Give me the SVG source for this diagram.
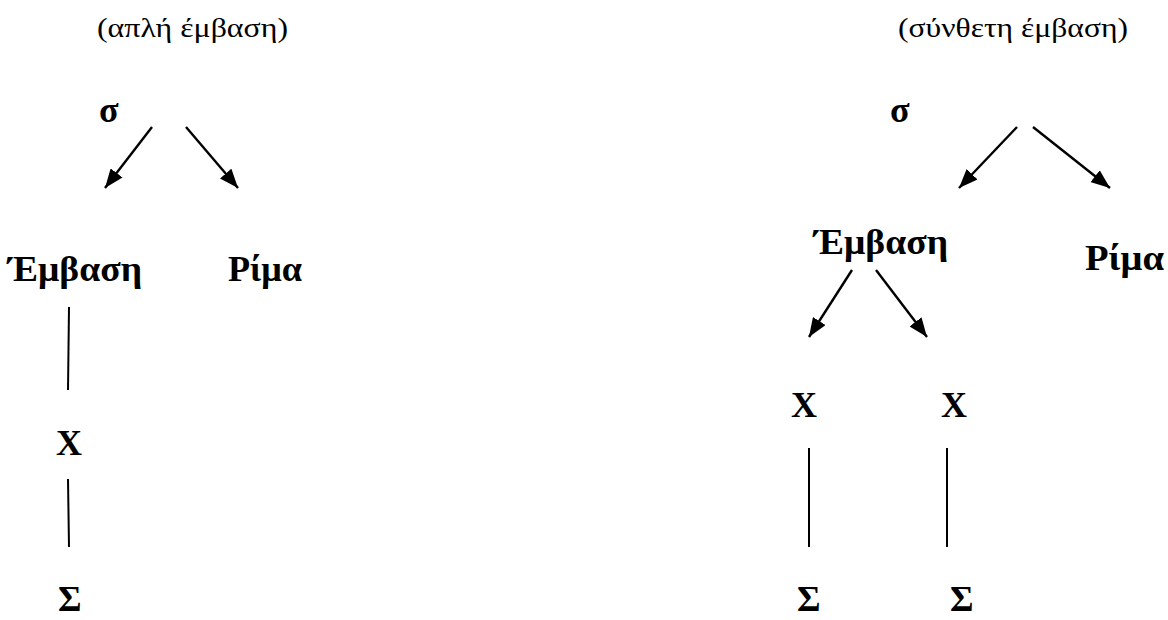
<svg xmlns="http://www.w3.org/2000/svg" width="1168" height="620" viewBox="0 0 1168 620">
<defs>
<marker id="ah" markerUnits="userSpaceOnUse" viewBox="0 0 19 15" refX="19" refY="7.5" markerWidth="19" markerHeight="15" orient="auto">
<path d="M0,0 L19,7.5 L0,15 z" fill="#000"/>
</marker>
<style>
.cap{font-family:"Liberation Serif","Times New Roman",serif;font-size:28px;fill:#000}
.lbl{font-family:"Liberation Serif","Times New Roman",serif;font-size:36px;font-weight:bold;fill:#000}
.arr{stroke:#000;stroke-width:2.4;fill:none;marker-end:url(#ah)}
.ln{stroke:#000;stroke-width:2;fill:none}
</style>
</defs>
<rect width="1168" height="620" fill="#fff"/>
<g id="captions">
<text class="cap" x="97" y="37" textLength="191" lengthAdjust="spacingAndGlyphs">(απλή έμβαση)</text>
<text class="cap" x="898" y="37" textLength="230" lengthAdjust="spacingAndGlyphs">(σύνθετη έμβαση)</text>
</g>
<g id="connectors">
<line class="arr" x1="152" y1="127" x2="105" y2="188"/>
<line class="arr" x1="186" y1="127" x2="238" y2="188"/>
<line class="ln" x1="69" y1="307" x2="68" y2="390"/>
<line class="ln" x1="68" y1="479" x2="69" y2="547"/>
<line class="arr" x1="1017" y1="127" x2="959" y2="188"/>
<line class="arr" x1="1033" y1="127" x2="1110" y2="188"/>
<line class="arr" x1="852" y1="270" x2="809" y2="337"/>
<line class="arr" x1="876" y1="270" x2="927" y2="337"/>
<line class="ln" x1="809" y1="448" x2="809" y2="547"/>
<line class="ln" x1="947" y1="448" x2="947" y2="547"/>
</g>
<g id="n-sigma1"><text class="lbl" x="99" y="122">σ</text></g>
<g id="n-emvasi1"><text class="lbl" x="8" y="281" textLength="134" lengthAdjust="spacingAndGlyphs">Έμβαση</text></g>
<g id="n-rima1"><text class="lbl" x="228" y="281" textLength="74" lengthAdjust="spacingAndGlyphs">Ρίμα</text></g>
<g id="n-x1"><text class="lbl" x="56" y="455">X</text></g>
<g id="n-S1"><text class="lbl" x="58" y="611">Σ</text></g>
<g id="n-sigma2"><text class="lbl" x="890" y="122">σ</text></g>
<g id="n-emvasi2"><text class="lbl" x="814" y="254" textLength="134" lengthAdjust="spacingAndGlyphs">Έμβαση</text></g>
<g id="n-rima2"><text class="lbl" x="1085" y="270" textLength="79" lengthAdjust="spacingAndGlyphs">Ρίμα</text></g>
<g id="n-x2a"><text class="lbl" x="791" y="417">X</text></g>
<g id="n-x2b"><text class="lbl" x="941" y="417">X</text></g>
<g id="n-S2a"><text class="lbl" x="797" y="611">Σ</text></g>
<g id="n-S2b"><text class="lbl" x="950" y="611">Σ</text></g>
</svg>
